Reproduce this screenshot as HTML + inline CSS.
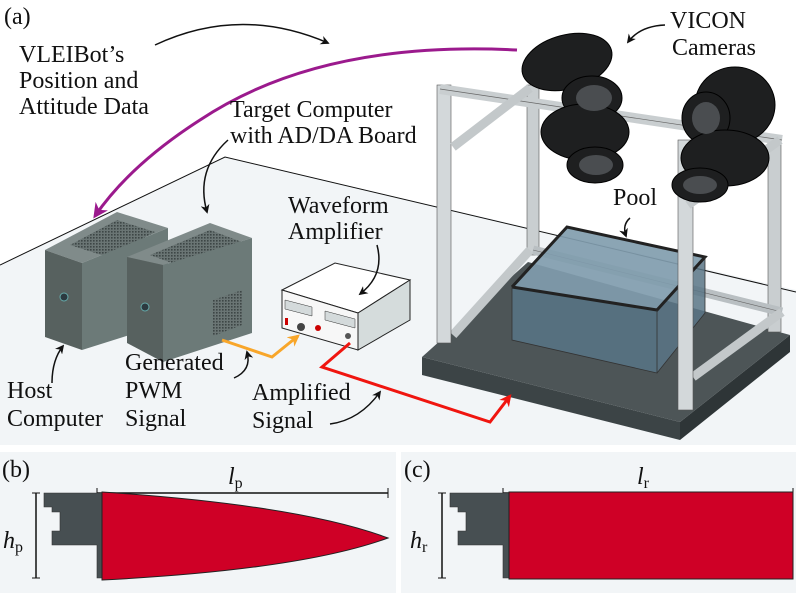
<!DOCTYPE html>
<html><head><meta charset="utf-8"><style>
html,body{margin:0;padding:0;background:#fff}
svg{display:block}
</style></head><body>
<svg width="796" height="593" viewBox="0 0 796 593" xmlns="http://www.w3.org/2000/svg" style="font-family:'Liberation Serif','DejaVu Serif',serif">
<defs>
<marker id="ab" viewBox="0 0 10 10" refX="8" refY="5" markerWidth="6" markerHeight="6" orient="auto"><path d="M0,0 L10,5 L0,10 L3,5z" fill="#111"/></marker>
<marker id="ap" viewBox="0 0 10 10" refX="8" refY="5" markerWidth="5" markerHeight="5" orient="auto"><path d="M0,0 L10,5 L0,10 L3,5z" fill="#9b1a8d"/></marker>
<marker id="ao" viewBox="0 0 10 10" refX="8" refY="5" markerWidth="4" markerHeight="4" orient="auto"><path d="M0,0 L10,5 L0,10 L3,5z" fill="#f8a62a"/></marker>
<marker id="ar" viewBox="0 0 10 10" refX="8" refY="5" markerWidth="4" markerHeight="4" orient="auto"><path d="M0,0 L10,5 L0,10 L3,5z" fill="#f0150f"/></marker>
<pattern id="mesh" width="3" height="3" patternUnits="userSpaceOnUse"><rect width="3" height="3" fill="#6a7574"/><rect width="1.6" height="1.6" fill="#3d4646"/></pattern>
</defs>
<polygon points="0,265 225,157 796,290 796,445 0,445" fill="#f2f5f7"/>
<polyline points="0,265 225,157 796,292" fill="none" stroke="#111" stroke-width="1"/>
<rect x="0" y="452" width="396" height="141" fill="#f2f5f7"/>
<rect x="401" y="452" width="395" height="141" fill="#f2f5f7"/>

<polygon points="422,357 680,422 680,440 422,375" fill="#3c4446"/>
<polygon points="680,422 790,335 790,352 680,440" fill="#2e3537"/>
<polygon points="422,357 528,262 790,335 680,422" fill="#4d5557"/>
<rect x="527" y="85" width="12" height="170" fill="#c9ced0" stroke="#555" stroke-width="0.6"/>
<rect x="768" y="136" width="13" height="196" fill="#c9ced0" stroke="#555" stroke-width="0.6"/>
<line x1="533" y1="250" x2="782" y2="312" stroke="#b9bfc2" stroke-width="9"/>
<line x1="533" y1="250" x2="782" y2="312" stroke="#666" stroke-width="0.6"/>
<polygon points="567,227 705,257 705,313 657,373 512,340 512,287" fill="#5b7686" opacity="0.85"/>
<polygon points="512,287 657,310 657,373 512,340" fill="#56707f"/>
<polygon points="567,227 705,257 657,310 512,287" fill="#a8c6d6" opacity="0.45"/>
<polyline points="512,287 567,227 705,257 657,310 512,287" fill="none" stroke="#222" stroke-width="3"/>
<polyline points="657,310 657,373 512,340 512,287" fill="none" stroke="#333" stroke-width="0.8"/>
<line x1="657" y1="373" x2="705" y2="313" stroke="#333" stroke-width="0.8"/>
<line x1="705" y1="257" x2="705" y2="313" stroke="#333" stroke-width="0.8"/>
<line x1="453" y1="335" x2="530" y2="250" stroke="#c3c8ca" stroke-width="9"/>
<line x1="693" y1="377" x2="782" y2="312" stroke="#c3c8ca" stroke-width="9"/>
<rect x="437" y="85" width="14" height="258" fill="#d3d8da" stroke="#555" stroke-width="0.6"/>
<rect x="678" y="140" width="15" height="270" fill="#d3d8da" stroke="#555" stroke-width="0.6"/>
<line x1="440" y1="89" x2="782" y2="140" stroke="#c9ced0" stroke-width="10"/>
<line x1="440" y1="89" x2="782" y2="140" stroke="#666" stroke-width="0.7"/>
<line x1="453" y1="147" x2="530" y2="88" stroke="#c3c8ca" stroke-width="9"/>
<line x1="688" y1="205" x2="780" y2="140" stroke="#c3c8ca" stroke-width="9"/>
<g fill="#1e1f20" stroke="#000" stroke-width="1">
<ellipse cx="567" cy="62" rx="46" ry="27" transform="rotate(-15 567 62)"/>
<ellipse cx="592" cy="98" rx="30" ry="22"/>
<ellipse cx="585" cy="132" rx="44" ry="28"/>
<ellipse cx="595" cy="165" rx="28" ry="18"/>
<ellipse cx="735" cy="105" rx="40" ry="38"/>
<ellipse cx="706" cy="118" rx="24" ry="26"/>
<ellipse cx="725" cy="158" rx="44" ry="28"/>
<ellipse cx="700" cy="185" rx="28" ry="17"/>
</g>
<g fill="#4a4d50"><ellipse cx="594" cy="98" rx="18" ry="13"/><ellipse cx="596" cy="165" rx="17" ry="10"/><ellipse cx="706" cy="118" rx="14" ry="16"/><ellipse cx="700" cy="185" rx="17" ry="9"/></g>

<polygon points="45,250 117,212 168,228 82,263" fill="#808b8a"/>
<polygon points="70,245 117,220 155,232 108,257" fill="url(#mesh)"/>
<polygon points="82,263 168,228 168,323 82,350" fill="#6c7a78"/>
<polygon points="45,250 82,263 82,350 45,337" fill="#57615f"/>
<circle cx="64" cy="297" r="4" fill="#2c3a40" stroke="#6aa" stroke-width="1"/>
<polygon points="127,257 210,223 252,238 163,265" fill="#808b8a"/>
<polygon points="150,255 210,230 242,242 180,266" fill="url(#mesh)"/>
<polygon points="163,265 252,238 252,333 163,362" fill="#6c7a78"/>
<polygon points="213,300 242,290 242,325 213,336" fill="url(#mesh)"/>
<polygon points="127,257 163,265 163,362 127,343" fill="#57615f"/>
<circle cx="145" cy="307" r="4" fill="#2c3a40" stroke="#6aa" stroke-width="1"/>
<polygon points="282,290 335,263 410,280 358,313" fill="#fff" stroke="#222" stroke-width="1"/>
<polygon points="358,313 410,280 410,320 358,350" fill="#d5dcdc" stroke="#222" stroke-width="1"/>
<polygon points="282,290 358,313 358,350 282,328" fill="#f7f7f7" stroke="#222" stroke-width="1"/>
<polygon points="285,300 312,307 312,316 285,309" fill="#d4dadb" stroke="#333" stroke-width="0.5"/>
<polygon points="325,311 355,319 355,328 325,320" fill="#d4dadb" stroke="#333" stroke-width="0.5"/>
<rect x="285" y="318" width="3" height="7" fill="#c00"/><circle cx="301" cy="327" r="4" fill="#444"/><circle cx="318" cy="328" r="3" fill="#c00"/><circle cx="348" cy="336" r="3" fill="#555"/>

<polyline points="222,340 272,357 298,336" fill="none" stroke="#f8a62a" stroke-width="3" marker-end="url(#ao)"/>
<polyline points="350,343 322,367 490,422 510,396" fill="none" stroke="#f0150f" stroke-width="3" marker-end="url(#ar)"/>
<path d="M517,50 Q320,40 200,120 Q130,165 95,216" fill="none" stroke="#9b1a8d" stroke-width="3" marker-end="url(#ap)"/>

<g fill="none" stroke="#111" stroke-width="1.5">
<path d="M155,45 Q240,5 328,43" marker-end="url(#ab)"/>
<path d="M228,140 Q195,170 207,212" marker-end="url(#ab)"/>
<path d="M665,25 Q640,26 628,42" marker-end="url(#ab)"/>
<path d="M630,218 Q622,225 626,236" marker-end="url(#ab)"/>
<path d="M377,245 Q385,275 360,294" marker-end="url(#ab)"/>
<path d="M52,383 Q52,360 63,346" marker-end="url(#ab)"/>
<path d="M234,378 Q252,370 247,352" marker-end="url(#ab)"/>
<path d="M330,424 Q360,420 380,392" marker-end="url(#ab)"/>
</g>

<g font-size="24" font-family="Liberation Serif, DejaVu Serif, serif" fill="#111">
<text x="4" y="24">(a)</text>
<text x="19" y="62">VLEIBot’s</text>
<text x="19" y="88">Position and</text>
<text x="19" y="114">Attitude Data</text>
<text x="230" y="117">Target Computer</text>
<text x="230" y="143">with AD/DA Board</text>
<text x="670" y="28">VICON</text>
<text x="672" y="55">Cameras</text>
<text x="613" y="205">Pool</text>
<text x="288" y="213">Waveform</text>
<text x="288" y="239">Amplifier</text>
<text x="7" y="398">Host</text>
<text x="7" y="426">Computer</text>
<text x="125" y="370">Generated</text>
<text x="125" y="398">PWM</text>
<text x="125" y="426">Signal</text>
<text x="252" y="400">Amplified</text>
<text x="252" y="428">Signal</text>
<text x="2" y="477">(b)</text>
<text x="404" y="477">(c)</text>
<text x="228" y="484" font-style="italic">l<tspan font-size="16" font-style="normal" dy="4">p</tspan></text>
<text x="3" y="548" font-style="italic">h<tspan font-size="16" font-style="normal" dy="4">p</tspan></text>
<text x="637" y="484" font-style="italic">l<tspan font-size="16" font-style="normal" dy="4">r</tspan></text>
<text x="410" y="548" font-style="italic">h<tspan font-size="16" font-style="normal" dy="4">r</tspan></text>
</g>

<line x1="97" y1="493" x2="388" y2="493" stroke="#111" stroke-width="1.5"/>
<line x1="97" y1="488" x2="97" y2="498" stroke="#111"/><line x1="388" y1="488" x2="388" y2="498" stroke="#111"/>
<line x1="36" y1="493" x2="36" y2="578" stroke="#111" stroke-width="1.5"/>
<line x1="32" y1="493" x2="40" y2="493" stroke="#111"/><line x1="32" y1="578" x2="40" y2="578" stroke="#111"/>
<path d="M44,493 H103 V578 H97 V545 H52 V531 H60 V512 H52 V507 H44 Z" fill="#474f52" stroke="#333" stroke-width="0.6"/>
<path d="M102,492 Q300,505 388,538 Q300,570 102,580 Z" fill="#cf0026" stroke="#222" stroke-width="1"/>
<line x1="503" y1="493" x2="793" y2="493" stroke="#111" stroke-width="1.5"/>
<line x1="503" y1="488" x2="503" y2="498" stroke="#111"/><line x1="793" y1="488" x2="793" y2="498" stroke="#111"/>
<line x1="442" y1="493" x2="442" y2="578" stroke="#111" stroke-width="1.5"/>
<line x1="438" y1="493" x2="446" y2="493" stroke="#111"/><line x1="438" y1="578" x2="446" y2="578" stroke="#111"/>
<path d="M450,493 H509 V578 H503 V545 H458 V531 H466 V512 H458 V507 H450 Z" fill="#474f52" stroke="#333" stroke-width="0.6"/>
<rect x="509" y="492" width="284" height="87" fill="#cf0026" stroke="#222" stroke-width="1"/>
</svg>
</body></html>
